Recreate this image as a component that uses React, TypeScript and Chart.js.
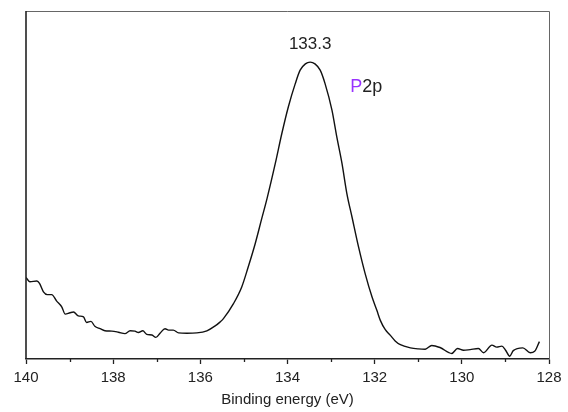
import React, { useEffect, useRef } from "react";
import { Chart, registerables } from "chart.js";

Chart.register(...registerables);

// Binding energy (eV)
const energies = [
  140.0, 139.91, 139.75, 139.69, 139.6, 139.51, 139.41, 139.3, 139.18, 139.1,
  138.99, 138.91, 138.8, 138.68, 138.61, 138.51, 138.42, 138.3, 138.19, 138.03,
  137.88, 137.73, 137.61, 137.5, 137.42, 137.32, 137.23, 137.11, 137.02, 136.92,
  136.81, 136.73, 136.62, 136.5, 136.31, 136.08, 135.85, 135.66, 135.55, 135.47,
  135.24, 135.05, 134.9, 134.74, 134.59, 134.47, 134.28, 134.13, 133.98, 133.82,
  133.71, 133.59, 133.48, 133.37, 133.25, 133.14, 132.98, 132.87, 132.75, 132.64,
  132.52, 132.37, 132.22, 132.06, 131.95, 131.87, 131.76, 131.64, 131.53, 131.41,
  131.18, 131.0, 130.84, 130.69, 130.5, 130.23, 130.1, 129.96, 129.81, 129.62,
  129.5, 129.31, 129.2, 129.08, 129.0, 128.9, 128.82, 128.6, 128.43, 128.33, 128.22,
];

// Intensity (a.u.)
const intensities = [
  23.4, 22.2, 22.4, 21.7, 19.3, 18.5, 18.5, 16.7, 15.0, 12.9,
  13.3, 13.5, 12.4, 12.1, 10.5, 10.8, 9.4, 8.7, 8.1, 8.0,
  7.7, 7.3, 8.1, 8.0, 7.6, 8.1, 7.1, 6.9, 6.2, 7.5,
  8.7, 8.3, 8.3, 7.5, 7.4, 7.5, 8.1, 9.5, 10.6, 11.6,
  15.9, 20.7, 26.5, 33.2, 40.4, 46.1, 56.2, 64.8, 72.5, 79.2,
  83.0, 84.8, 85.3, 84.8, 83.0, 79.2, 71.5, 63.9, 56.2, 47.7,
  40.8, 32.2, 24.6, 17.8, 14.0, 11.1, 8.5, 6.8, 5.2, 4.1,
  3.2, 2.9, 2.8, 3.9, 3.3, 1.6, 3.0, 2.5, 2.7, 3.0,
  1.8, 4.0, 3.4, 3.7, 2.6, 0.8, 2.4, 3.2, 1.8, 2.2, 5.0,
];

const xTicks = [140, 138, 136, 134, 132, 130, 128];
const xMinorTicks = [139, 137, 135, 133, 131, 129];

const peakLabel = "133.3";
const peakLabelPos = [133.48, 90.5];
const elementLabel = ["P", "2p"];
const elementLabelPos = [132.56, 78.2];

const FONT = "'Liberation Sans', Arial, sans-serif";

export default function App() {
  const ref = useRef<HTMLCanvasElement | null>(null);

  useEffect(() => {
    document.body.style.margin = "0";
    const canvas = ref.current;
    if (!canvas) return;

    const framePlugin = {
      id: "frame",
      afterDraw(chart: any) {
        const { ctx, chartArea, scales } = chart;
        const { left, right, top, bottom } = chartArea;
        const x = scales.x;
        const y = scales.y;
        ctx.save();
        ctx.strokeStyle = "#666";
        ctx.lineWidth = 1;
        ctx.beginPath();
        ctx.moveTo(left, top + 0.5);
        ctx.lineTo(right + 0.5, top + 0.5);
        ctx.lineTo(right + 0.5, bottom);
        ctx.stroke();
        ctx.strokeStyle = "#222";
        ctx.lineWidth = 1.6;
        ctx.beginPath();
        ctx.moveTo(left, top);
        ctx.lineTo(left, bottom);
        ctx.stroke();
        ctx.lineWidth = 1.3;
        ctx.beginPath();
        xMinorTicks.forEach((v) => {
          const px = Math.round(x.getPixelForValue(v)) + 0.5;
          ctx.moveTo(px, bottom);
          ctx.lineTo(px, bottom + 3);
        });
        ctx.stroke();
        ctx.fillStyle = "#222";
        ctx.textBaseline = "middle";
        ctx.font = `17px ${FONT}`;
        ctx.textAlign = "center";
        ctx.fillText(
          peakLabel,
          x.getPixelForValue(peakLabelPos[0]),
          y.getPixelForValue(peakLabelPos[1])
        );
        ctx.font = `18px ${FONT}`;
        ctx.textAlign = "left";
        const ex = x.getPixelForValue(elementLabelPos[0]);
        const ey = y.getPixelForValue(elementLabelPos[1]);
        ctx.fillStyle = "#9933ff";
        ctx.fillText(elementLabel[0], ex, ey);
        const w = ctx.measureText(elementLabel[0]).width;
        ctx.fillStyle = "#222";
        ctx.fillText(elementLabel[1], ex + w, ey);
        ctx.restore();
      },
    };

    const chart = new Chart(canvas, {
      type: "line",
      data: {
        datasets: [
          {
            data: energies.map((e, i) => ({ x: e, y: intensities[i] })),
            borderColor: "#111",
            borderWidth: 1.4,
            pointRadius: 0,
            fill: false,
            cubicInterpolationMode: "monotone",
          },
        ],
      },
      options: {
        animation: false,
        responsive: false,
        devicePixelRatio: 1,
        layout: { padding: { left: 26, right: 19, top: 11, bottom: 0 } },
        plugins: { legend: { display: false }, tooltip: { enabled: false } },
        scales: {
          x: {
            type: "linear",
            reverse: true,
            min: 128,
            max: 140,
            afterBuildTicks: (scale: any) => {
              scale.ticks = xTicks.map((v) => ({ value: v }));
            },
            afterFit: (scale: any) => {
              scale.height = 53;
            },
            grid: {
              display: true,
              drawOnChartArea: false,
              drawTicks: true,
              tickLength: 5,
              tickWidth: 1.3,
              tickColor: "#222",
            },
            border: { display: true, color: "#222", width: 1.6 },
            ticks: {
              color: "#222",
              font: { family: FONT, size: 15 },
              padding: 5,
              maxRotation: 0,
              callback: (v: any) => String(v),
            },
            title: {
              display: true,
              text: "Binding energy (eV)",
              color: "#222",
              font: { family: FONT, size: 15 },
              padding: { top: 0, bottom: 3 },
            },
          },
          y: {
            display: false,
            min: 0,
            max: 100,
          },
        },
      },
      plugins: [framePlugin],
    });
    return () => chart.destroy();
  }, []);

  return (
    <div style={{ width: 568, height: 412, background: "#fff" }}>
      <canvas ref={ref} width={568} height={412} style={{ display: "block" }} />
    </div>
  );
}
